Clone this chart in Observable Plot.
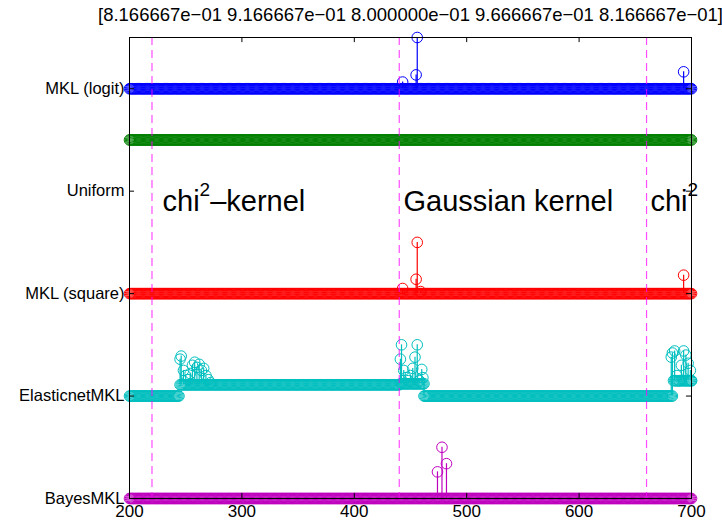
<!DOCTYPE html>
<html><head><meta charset="utf-8">
<script src="https://cdn.jsdelivr.net/npm/d3@7"></script>
<script src="https://cdn.jsdelivr.net/npm/@observablehq/plot@0.6"></script>
<style>
body{margin:0;background:#fff;}
svg{font-family:"Liberation Sans",Arial,Helvetica,sans-serif;}
</style>
</head><body><div id="chart"></div>
<script>
// ---- data ----
const seriesNames = ["BayesMKL", "ElasticnetMKL", "MKL (square)", "Uniform", "MKL (logit)"];
const seriesColors = ["#bf00bf", "#00bfbf", "#ff0000", "#008000", "#0000ff"];
const xTicks = [200, 300, 400, 500, 600, 700];
const kernelBoundaries = [220, 440, 660];
const titleValues = ["8.166667e\u221201", "9.166667e\u221201", "8.000000e\u221201", "9.666667e\u221201", "8.166667e\u221201"];
const kernelLabels = ["chi^2\u2013kernel", "Gaussian kernel", "chi^2"];
const kernelLabelX = [229.4, 443.8, 663.5];

// constant weight levels per series: [firstFeature, lastFeature, weight]
const bayesLevels = [[200, 700, 0]];
const elasticLevels = [[200, 244, 0], [245, 440, 0.11], [441, 461, 0.12], [462, 683, 0], [684, 700, 0.15]];
const squareLevels = [[200, 700, 0]];
const uniformLevels = [[200, 700, 0.5]];
const logitLevels = [[200, 700, 0]];

// stems: [feature, weight]
const bayesSpikes = [[474, 0.26], [478, 0.5], [482, 0.34]];
const elasticSpikes = [
  [245, 0.36], [246, 0.39], [248, 0.25], [250, 0.2], [252, 0.16], [254, 0.22], [256, 0.3], [258, 0.33],
  [260, 0.28], [262, 0.31], [264, 0.25], [266, 0.27], [268, 0.2], [270, 0.16], [272, 0.13],
  [441, 0.36], [442, 0.5], [444, 0.25], [446, 0.18], [448, 0.15], [450, 0.2], [452, 0.27], [454, 0.38],
  [456, 0.5], [458, 0.15], [460, 0.26], [461, 0.18], [462, 0.12],
  [682, 0.38], [683, 0.42], [685, 0.44], [687, 0.2], [689, 0.15], [691, 0.3], [693, 0.44], [695, 0.4],
  [697, 0.32], [699, 0.25], [700, 0.15]
];
const squareSpikes = [[443, 0.05], [455, 0.14], [456, 0.5], [459, 0.02], [693, 0.18]];
const uniformSpikes = [];
const logitSpikes = [[443, 0.065], [455, 0.135], [456, 0.5], [693, 0.165]];

// ---- build tables ----
const levelsBySeries = [bayesLevels, elasticLevels, squareLevels, uniformLevels, logitLevels];
const spikesBySeries = [bayesSpikes, elasticSpikes, squareSpikes, uniformSpikes, logitSpikes];
const xDomain = [xTicks[0], xTicks[xTicks.length - 1]];
const yDomain = [0, 4.5];
const yTicks = seriesNames.map((d, i) => i);

function levelAt(levels, f) {
  const seg = levels.find(([a, b]) => f >= a && f <= b);
  return seg ? seg[2] : 0;
}

const marks = [];
levelsBySeries.forEach((levels, i) => {
  const pts = [];
  levels.forEach(([a, b, w]) => { for (let f = a; f <= b; f++) pts.push({x: f, y: i + w}); });
  const stems = spikesBySeries[i].map(([f, w]) => ({x: f, y1: i + Math.min(w, levelAt(levels, f)), y2: i + w}));
  marks.push(Plot.ruleX(stems, {x: "x", y1: "y1", y2: "y2", stroke: seriesColors[i], strokeWidth: 1.2}));
  marks.push(Plot.dot(pts, {x: "x", y: "y", r: 5.3, stroke: seriesColors[i], strokeWidth: 1, fill: "none"}));
  marks.push(Plot.dot(stems, {x: "x", y: "y2", r: 5.3, stroke: seriesColors[i], strokeWidth: 1, fill: "none"}));
});

const chart = Plot.plot({
  width: 722,
  height: 521,
  marginLeft: 129,
  marginRight: 31,
  marginTop: 37,
  marginBottom: 23,
  x: {domain: xDomain},
  y: {domain: yDomain},
  style: {background: "#fff", overflow: "visible"},
  marks: [
    ...marks,
    Plot.ruleX(kernelBoundaries, {stroke: "#ff00ff", strokeOpacity: 0.7, strokeWidth: 1.2, strokeDasharray: "8,5"}),
    Plot.frame({stroke: "#000", strokeWidth: 1}),
    // inward ticks on all four sides
    Plot.ruleY(yTicks, {x1: xDomain[0], x2: xDomain[0] + 4.5, stroke: "#000"}),
    Plot.ruleY(yTicks, {x1: xDomain[1] - 4.5, x2: xDomain[1], stroke: "#000"}),
    Plot.ruleX(xTicks, {y1: yDomain[1], y2: yDomain[1] - 0.05, stroke: "#000"}),
    Plot.ruleX(xTicks, {y1: yDomain[0], y2: yDomain[0] + 0.05, stroke: "#000"}),
    Plot.axisX({ticks: xTicks, tickSize: 0, tickPadding: 6.5, fontSize: 17, tickFormat: d => String(d), label: null}),
    Plot.axisY({ticks: yTicks, tickSize: 0, tickPadding: 5, fontSize: 16.5, tickFormat: d => seriesNames[d], label: null}),
    Plot.text(kernelLabels, {x: (d, i) => kernelLabelX[i], y: 2.81, text: d => d, textAnchor: "start", lineAnchor: "bottom", fontSize: 29, fill: "#000"}),
    Plot.text(["[" + titleValues.join(" ") + "]"], {frameAnchor: "top", dy: -22, lineAnchor: "middle", fontSize: 18.5, fill: "#000"})
  ]
});

// superscripts for "chi^2"
d3.select(chart).selectAll("text").each(function() {
  const t = this.textContent;
  if (t.includes("^2") && this.children.length === 0) {
    const parts = t.split("^2");
    const sel = d3.select(this);
    sel.text(null);
    sel.append("tspan").text(parts[0]);
    sel.append("tspan").attr("dy", -15).attr("font-size", 19).text("2");
    if (parts[1]) sel.append("tspan").attr("dy", 15).text(parts[1]);
  }
});

document.getElementById("chart").appendChild(chart);
</script>
</body></html>
